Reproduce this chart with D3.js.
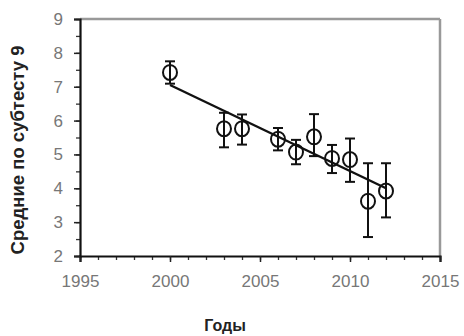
<!DOCTYPE html>
<html><head><meta charset="utf-8">
<script src="https://cdn.jsdelivr.net/npm/d3@7"></script>
<style>body{margin:0;background:#fff}svg{display:block}</style>
</head><body>
<svg id="c" width="464" height="336"></svg>
<script>
const years = [2000, 2003, 2004, 2006, 2007, 2008, 2009, 2010, 2011, 2012];
const means = [7.42, 5.76, 5.76, 5.45, 5.07, 5.52, 4.88, 4.85, 3.62, 3.92];
const errUp = [0.33, 0.47, 0.42, 0.33, 0.36, 0.67, 0.40, 0.62, 1.12, 0.82];
const errDown = [0.33, 0.55, 0.47, 0.33, 0.36, 0.57, 0.43, 0.66, 1.06, 0.78];
const trendX = [2000, 2012];
const trendY = [7.05, 4.0];
const xTicks = [1995, 2000, 2005, 2010, 2015];
const yTicks = [2, 3, 4, 5, 6, 7, 8, 9];
const xLabel = "Годы";
const yLabel = "Средние по субтесту 9";

const svg = d3.select("#c");
const L = 80, R = 440, T = 19, B = 256;
const x = d3.scaleLinear().domain([1995, 2015]).range([L, R]);
const y = d3.scaleLinear().domain([2, 9]).range([B, T]);
const FONT = "Liberation Sans, Arial, sans-serif";

// frame top/right
svg.append("line").attr("x1", L).attr("x2", R).attr("y1", T).attr("y2", T).attr("stroke", "#999").attr("stroke-width", 2.5);
svg.append("line").attr("x1", R).attr("x2", R).attr("y1", T).attr("y2", B).attr("stroke", "#999").attr("stroke-width", 2.5);

// minor ticks
const gx = svg.append("g").attr("transform", `translate(0,${B})`)
  .call(d3.axisBottom(x).tickValues(d3.range(1995, 2016, 1)).tickSize(4).tickFormat(""));
const gy = svg.append("g").attr("transform", `translate(${L},0)`)
  .call(d3.axisLeft(y).tickValues(d3.range(2, 9.01, 0.5)).tickSize(4).tickFormat(""));
[gx, gy].forEach(g => { g.select(".domain").remove(); g.selectAll("line").attr("stroke", "#333").attr("stroke-width", 1.3); });

// major ticks + labels
const ax = svg.append("g").attr("transform", `translate(0,${B})`)
  .call(d3.axisBottom(x).tickValues(xTicks).tickSize(6).tickPadding(13).tickFormat(d3.format("d")));
const ay = svg.append("g").attr("transform", `translate(${L},0)`)
  .call(d3.axisLeft(y).tickValues(yTicks).tickSize(6).tickPadding(11).tickFormat(d3.format("d")));
[ax, ay].forEach(g => {
  g.select(".domain").attr("stroke", "#111").attr("stroke-width", 2.2);
  g.selectAll("line").attr("stroke", "#222").attr("stroke-width", 1.5);
  g.selectAll("text").attr("fill", "#777").attr("font-family", FONT).attr("font-size", 17);
});

// trend line
svg.append("line")
  .attr("x1", x(trendX[0])).attr("y1", y(trendY[0]))
  .attr("x2", x(trendX[1])).attr("y2", y(trendY[1]))
  .attr("stroke", "#111").attr("stroke-width", 2.4);

// error bars & points
const data = years.map((yr, i) => ({yr, m: means[i], up: errUp[i], dn: errDown[i]}));
const g = svg.append("g").attr("stroke", "#111").attr("stroke-width", 2).attr("fill", "none");
data.forEach(d => {
  const cx = x(d.yr);
  g.append("line").attr("x1", cx).attr("x2", cx).attr("y1", y(d.m + d.up)).attr("y2", y(d.m - d.dn));
  g.append("line").attr("x1", cx - 5).attr("x2", cx + 5).attr("y1", y(d.m + d.up)).attr("y2", y(d.m + d.up));
  g.append("line").attr("x1", cx - 5).attr("x2", cx + 5).attr("y1", y(d.m - d.dn)).attr("y2", y(d.m - d.dn));
  g.append("ellipse").attr("cx", cx).attr("cy", y(d.m)).attr("rx", 7).attr("ry", 7.5);
});

// axis titles
svg.append("text").attr("x", 225).attr("y", 331).attr("text-anchor", "middle")
  .attr("font-family", FONT).attr("font-weight", "bold").attr("font-size", 16)
  .attr("fill", "#222").text(xLabel);
svg.append("text").attr("transform", "translate(24,150) rotate(-90)").attr("text-anchor", "middle")
  .attr("font-family", FONT).attr("font-weight", "bold").attr("font-size", 18.5)
  .attr("fill", "#222").text(yLabel);
</script>
</body></html>
